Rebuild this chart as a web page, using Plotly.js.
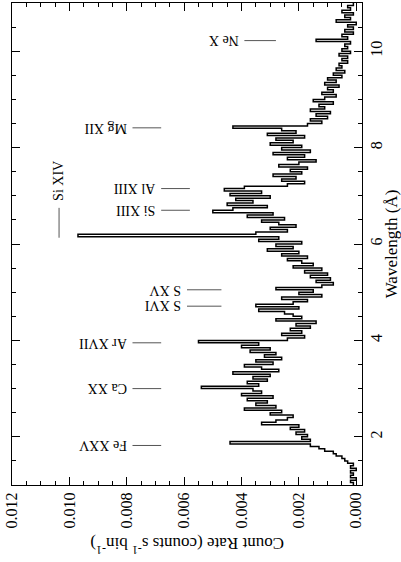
<!DOCTYPE html>
<html>
<head>
<meta charset="utf-8">
<script src="https://cdn.plot.ly/plotly-3.0.1.min.js"></script>
<style>html,body{margin:0;padding:0;background:#fff;}</style>
</head>
<body>
<div id="chart" style="width:401px;height:562px;"></div>
<script>
// ---- data ----
const binStart = 1.0;   // first bin edge (Å)
const binWidth = 0.05;  // bin width (Å)
const countRate = [
  0.0001,0.0002,0.0000,0.0002,0.0001,0.0002,0.0000,0.0002,0.0001,0.0003,
  0.0004,0.0005,0.0007,0.0008,0.0011,0.0013,0.0016,0.0044,0.0016,0.0019,
  0.0017,0.0021,0.0018,0.0023,0.0020,0.0033,0.0028,0.0024,
  0.0022,0.0030,0.0026,0.0039,0.0028,0.0035,0.0031,0.0038,0.0029,0.0040,0.0033,0.0036,
  0.0054,0.0034,0.0038,0.0031,0.0036,0.0030,0.0043,0.0027,
  0.0033,0.0039,0.0029,0.0035,0.0026,0.0032,0.0028,0.0037,0.0030,0.0040,0.0034,
  0.0055,
  0.0024,0.0018,0.0026,0.0019,0.0023,0.0016,0.0021,0.0014,0.0028,0.0019,0.0022,
  0.0025,0.0034,0.0020,0.0035,0.0022,0.0017,0.0026,0.0012,0.0020,0.0015,0.0028,
  0.0012,0.0008,0.0014,0.0009,0.0016,0.0010,0.0018,0.0012,0.0022,0.0015,0.0019,0.0024,
  0.0017,0.0026,0.0020,0.0031,0.0022,0.0028,0.0019,0.0034,0.0027,
  0.0097,
  0.0035,0.0024,0.0030,0.0021,0.0027,0.0033,
  0.0025,0.0038,0.0029,0.0050,0.0043,
  0.0031,0.0045,0.0036,0.0042,0.0030,0.0044,0.0033,0.0046,0.0039,
  0.0024,0.0018,0.0026,0.0021,0.0029,
  0.0019,0.0023,0.0017,0.0027,0.0020,0.0014,0.0024,0.0018,0.0029,0.0016,0.0026,0.0019,0.0030,0.0022,
  0.0028,0.0018,0.0031,0.0021,0.0026,0.0043,
  0.0017,0.0012,0.0016,0.0010,0.0014,0.0009,0.0016,0.0011,0.0013,0.0008,0.0015,
  0.0011,0.0007,0.0012,0.0008,0.0010,0.0006,0.0011,0.0007,0.0010,0.0005,0.0008,0.0004,0.0007,0.0005,0.0006,0.0003,
  0.0005,0.0003,0.0006,0.0002,0.0005,0.0003,0.0004,0.0002,0.0014,0.0003,0.0005,0.0001,
  0.0004,0.0001,0.0003,0.0000,0.0007,0.0002,0.0004,0.0001,0.0005,0.0002,0.0003,0.0001
];
const countTicks = [0, 0.002, 0.004, 0.006, 0.008, 0.010, 0.012];
const countTickLabels = ['0.000', '0.002', '0.004', '0.006', '0.008', '0.010', '0.012'];
const waveTicks = [2, 4, 6, 8, 10];
const waveTickLabels = ['2', '4', '6', '8', '10'];
const lineNames = ['Fe XXV', 'Ca XX', 'Ar XVII', 'S XVI', 'S XV', 'Si XIV', 'Si XIII', 'Al XIII', 'Mg XII', 'Ne X'];
const lineWaves = [1.82, 3.00, 3.95, 4.71, 5.05, 6.13, 6.70, 7.15, 8.41, 10.22];

// ---- label placement (layout only) ----
const labelDash = [
  [0.0078, 0.0068], [0.0078, 0.0068], [0.0078, 0.0068],
  [0.0059, 0.0047], [0.0059, 0.0047],
  [0.01036, 0.62],
  [0.0068, 0.0058], [0.0068, 0.0058],
  [0.0078, 0.0068],
  [0.0039, 0.0028]
];

const serif = 'Liberation Serif, Times New Roman, serif';
const shapes = [];
const annotations = [];
lineNames.forEach((name, i) => {
  const w = lineWaves[i];
  const d = labelDash[i];
  if (name === 'Si XIV') {
    shapes.push({type:'line', xref:'x', yref:'y', x0:d[0], x1:d[0], y0:w, y1:w + d[1],
      line:{color:'#555', width:1}});
    annotations.push({x:d[0], y:w + d[1], xref:'x', yref:'y', text:name, showarrow:false,
      textangle:-90, xanchor:'center', yanchor:'bottom', yshift:5,
      font:{family:serif, size:14, color:'#000'}});
  } else {
    shapes.push({type:'line', xref:'x', yref:'y', x0:d[0], x1:d[1], y0:w, y1:w,
      line:{color:'#555', width:1}});
    annotations.push({x:d[0], y:w, xref:'x', yref:'y', text:name, showarrow:false,
      textangle:180, xanchor:'right', yanchor:'middle', xshift:-4,
      font:{family:serif, size:14, color:'#000'}});
  }
});
annotations.push({x:0.5, y:-0.125, xref:'paper', yref:'paper', showarrow:false,
  text:'Count Rate (counts s<sup>-1</sup> bin<sup>-1</sup>)', textangle:180,
  xanchor:'center', yanchor:'middle', font:{family:serif, size:17, color:'#000'}});

const trace = {
  type:'scatter', mode:'lines',
  x: countRate.concat([countRate[countRate.length - 1]]),
  y0: binStart, dy: binWidth,
  line:{shape:'vh', color:'#000', width:1.5},
  hoverinfo:'skip'
};

const axisCommon = {
  ticks:'inside', ticklen:8, tickwidth:1, tickcolor:'#000',
  showline:true, linecolor:'#000', linewidth:1, mirror:'allticks',
  showgrid:false, zeroline:false, tickmode:'array',
  tickfont:{family:serif, size:16, color:'#000'}, tickangle:-90
};

const layout = {
  width:401, height:562,
  margin:{l:12, r:39, t:3, b:77, pad:0},
  paper_bgcolor:'#fff', plot_bgcolor:'#fff',
  font:{family:serif, size:16, color:'#000'},
  showlegend:false,
  xaxis: Object.assign({}, axisCommon, {
    range:[0.012, -0.0002], tickvals:countTicks, ticktext:countTickLabels,
    minor:{tickmode:'linear', tick0:0, dtick:0.0005, ticks:'inside', ticklen:4, tickcolor:'#000', showgrid:false}
  }),
  yaxis: Object.assign({}, axisCommon, {
    range:[1, 11], side:'right', tickvals:waveTicks, ticktext:waveTickLabels,
    minor:{tickmode:'linear', tick0:0, dtick:0.5, ticks:'inside', ticklen:4, tickcolor:'#000', showgrid:false},
    title:{text:'Wavelength (Å)', font:{family:serif, size:17, color:'#000'}, standoff:4}
  }),
  shapes: shapes,
  annotations: annotations
};

Plotly.newPlot('chart', [trace], layout, {displayModeBar:false, staticPlot:true});
</script>
</body>
</html>
